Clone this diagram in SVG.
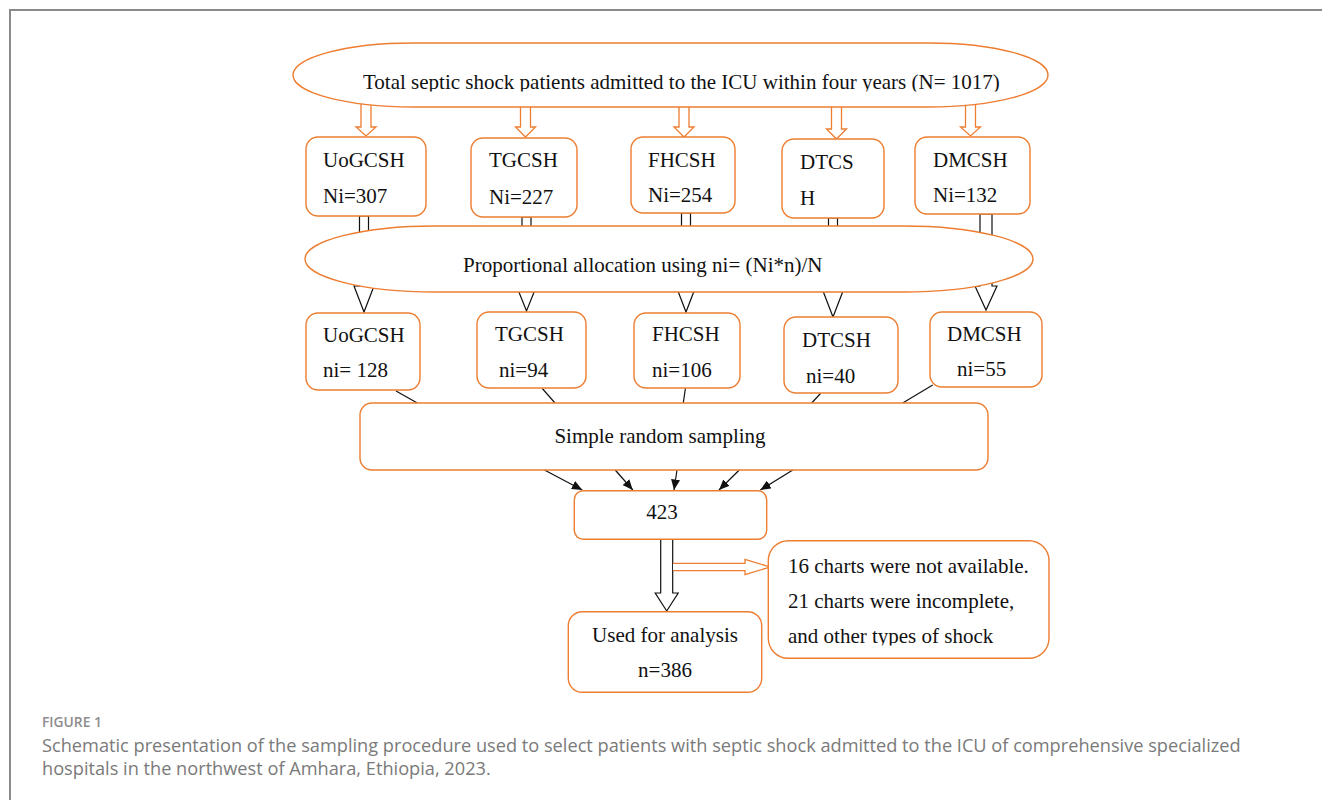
<svg xmlns="http://www.w3.org/2000/svg" width="1322" height="800" viewBox="0 0 1322 800">
<style>
.frame{stroke:#8a8a8a;stroke-width:2;fill:none}
.nd{fill:#fff;stroke:#ED7D31;stroke-width:1.4}
.t{font-family:"Liberation Serif","Times New Roman",serif;font-size:21px;fill:#111}
.tc{font-family:"Liberation Serif","Times New Roman",serif;font-size:21px;fill:#111;text-anchor:middle}
.oa{fill:#fff;stroke:#ED7D31;stroke-width:1.3}
.ba{fill:#fff;stroke:#111;stroke-width:1.2}
.ln{stroke:#111;stroke-width:1.2;fill:none}
.la{stroke:#111;stroke-width:1.2;fill:none;marker-end:url(#ah)}
.figl{font-family:"Open Sans","Liberation Sans",sans-serif;font-size:13.8px;font-weight:600;fill:#8c8c8c}
.cap{font-family:"Open Sans","Liberation Sans",sans-serif;font-size:18.2px;fill:#7a7a7a}
</style>
<defs>
<marker id="ah" markerUnits="userSpaceOnUse" markerWidth="11" markerHeight="9" refX="10.5" refY="4.5" orient="auto">
<path d="M0,0 L10.5,4.5 L0,9 z" fill="#111"/>
</marker>
<clipPath id="c1"><rect x="290" y="40" width="760" height="51.5"/></clipPath>
<clipPath id="c2"><rect x="770" y="545" width="275" height="100.5"/></clipPath>
</defs>
<rect width="1322" height="800" fill="#fff"/>
<path class="frame" d="M10,800 V10 H1322"/>

<g id="connectors">
<polygon class="oa" points="361,100 371,100 371,127 376,127 366,136 356,127 361,127"/>
<polygon class="oa" points="520.5,100 530.5,100 530.5,127 535.5,127 525.5,137 515.5,127 520.5,127"/>
<polygon class="oa" points="679,100 689,100 689,127 694,127 684,137 674,127 679,127"/>
<polygon class="oa" points="831.5,100 841.5,100 841.5,129 846.5,129 836.5,139 826.5,129 831.5,129"/>
<polygon class="oa" points="965.5,100 975.5,100 975.5,127 980.5,127 970.5,136 960.5,127 965.5,127"/>
<polygon class="ba" points="359.5,216 368.5,216 368.5,286 374,286 364,312 354,286 359.5,286"/>
<polygon class="ba" points="522,217 531,217 531,286 536.5,286 526.5,311 516.5,286 522,286"/>
<polygon class="ba" points="681.5,213 690.5,213 690.5,286 696,286 686,312 676,286 681.5,286"/>
<polygon class="ba" points="828.5,218 837.5,218 837.5,291 843,291 833,317 823,291 828.5,291"/>
<polygon class="ba" points="980,214 992,214 992,286 997,286 986,310 975,286 980,286"/>
<line class="ln" x1="396" y1="391" x2="417.3" y2="403"/>
<line class="ln" x1="542.3" y1="388.5" x2="555" y2="403"/>
<line class="ln" x1="685.4" y1="388.5" x2="683.3" y2="403"/>
<line class="ln" x1="820.5" y1="393.5" x2="811.7" y2="403"/>
<line class="ln" x1="932.7" y1="385" x2="902.7" y2="403"/>
<line class="la" x1="544.4" y1="470" x2="582.3" y2="490"/>
<line class="la" x1="615.2" y1="470" x2="632.8" y2="490"/>
<line class="la" x1="677" y1="470" x2="674" y2="490"/>
<line class="la" x1="739.3" y1="470" x2="719" y2="490"/>
<line class="la" x1="792.8" y1="470" x2="760.3" y2="490"/>
<polygon class="ba" points="660.7,539 672.7,539 672.7,593 678.2,593 666.7,611 655.2,593 660.7,593"/>
<polyline class="oa" points="673,563.3 745,563.3 745,559.3 770,567 745,574.7 745,570.7 673,570.7"/>
</g>

<g id="total">
<rect class="nd" x="293" y="43" width="755" height="64" rx="120" ry="32"/>
<text class="t" x="363" y="89" clip-path="url(#c1)">Total septic shock patients admitted to the ICU within four years (N= 1017)</text>
</g>
<g id="uog1"><rect class="nd" x="306" y="137" width="120" height="79" rx="12"/><text class="t" x="323" y="167">UoGCSH</text><text class="t" x="323" y="203">Ni=307</text></g>
<g id="tg1"><rect class="nd" x="471" y="138" width="106" height="79" rx="12"/><text class="t" x="489" y="167">TGCSH</text><text class="t" x="489" y="204">Ni=227</text></g>
<g id="fh1"><rect class="nd" x="631" y="137" width="104" height="76" rx="12"/><text class="t" x="648" y="167">FHCSH</text><text class="t" x="648" y="202">Ni=254</text></g>
<g id="dt1"><rect class="nd" x="782" y="139" width="102" height="79" rx="12"/><text class="t" x="800" y="169">DTCS</text><text class="t" x="800" y="205">H</text></g>
<g id="dm1"><rect class="nd" x="915" y="137" width="115" height="77" rx="12"/><text class="t" x="933" y="167">DMCSH</text><text class="t" x="933" y="202">Ni=132</text></g>

<g id="allocation">
<rect class="nd" x="305" y="226" width="728" height="66" rx="130" ry="33"/>
<text class="t" x="463" y="272">Proportional allocation using ni= (Ni*n)/N</text>
</g>
<g id="uog2"><rect class="nd" x="306" y="313" width="114" height="77" rx="12"/><text class="t" x="323" y="342">UoGCSH</text><text class="t" x="323" y="377">ni= 128</text></g>
<g id="tg2"><rect class="nd" x="477" y="312" width="109" height="76" rx="12"/><text class="t" x="495" y="341">TGCSH</text><text class="t" x="499" y="377">ni=94</text></g>
<g id="fh2"><rect class="nd" x="634" y="313" width="106" height="75" rx="12"/><text class="t" x="652" y="341">FHCSH</text><text class="t" x="652" y="377">ni=106</text></g>
<g id="dt2"><rect class="nd" x="784" y="317" width="114" height="76" rx="12"/><text class="t" x="802" y="347">DTCSH</text><text class="t" x="806" y="383">ni=40</text></g>
<g id="dm2"><rect class="nd" x="930" y="312" width="112" height="75" rx="12"/><text class="t" x="947" y="341">DMCSH</text><text class="t" x="957" y="376">ni=55</text></g>

<g id="srs"><rect class="nd" x="360" y="403" width="628" height="67" rx="12"/><text class="tc" x="660" y="443">Simple random sampling</text></g>
<g id="n423"><rect class="nd" x="574.3" y="490.7" width="192.4" height="48.6" rx="9"/><text class="tc" x="662" y="519">423</text></g>
<g id="excluded"><rect class="nd" x="768.3" y="540.7" width="280.7" height="117.6" rx="20"/>
<text class="t" x="788" y="573">16 charts were not available.</text>
<text class="t" x="788" y="608">21 charts were incomplete,</text>
<text class="t" x="788" y="643" clip-path="url(#c2)">and other types of shock</text></g>
<g id="used"><rect class="nd" x="568.3" y="611.7" width="193.4" height="80.6" rx="14"/><text class="tc" x="665" y="642">Used for analysis</text><text class="tc" x="665" y="677">n=386</text></g>

<g id="caption">
<text class="figl" x="42" y="727">FIGURE 1</text>
<text class="cap" x="42" y="752">Schematic presentation of the sampling procedure used to select patients with septic shock admitted to the ICU of comprehensive specialized</text>
<text class="cap" x="42" y="775">hospitals in the northwest of Amhara, Ethiopia, 2023.</text>
</g>
</svg>
